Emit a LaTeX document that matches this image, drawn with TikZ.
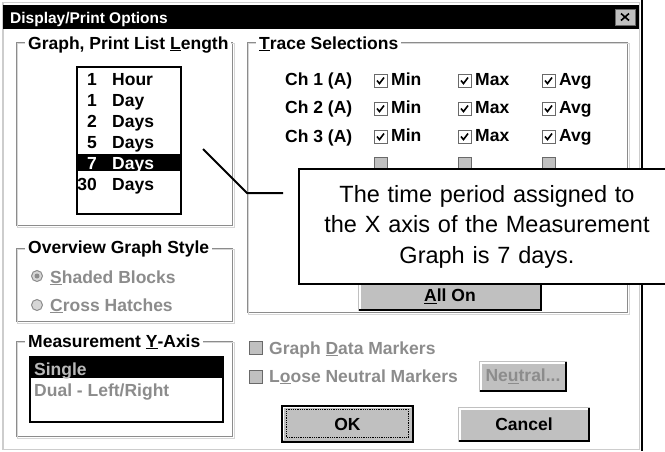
\documentclass[tikz,border=0pt]{standalone}
\usepackage{fontspec}
\setmainfont{Liberation Sans}
\usepackage{tikz}
\usetikzlibrary{positioning}

\definecolor{wingray}{RGB}{192,192,192}
\definecolor{dimgray}{RGB}{140,140,140}
\definecolor{etchdark}{RGB}{140,140,140}
\definecolor{etchlight}{RGB}{214,214,214}
\definecolor{framelight}{RGB}{205,205,205}
\definecolor{boxedge}{RGB}{105,105,105}

\begin{document}
\begin{tikzpicture}[x=1pt,y=-1pt,
  dlg/.style={font=\fontsize{17.5}{20}\selectfont\bfseries, inner sep=0pt},
  dim/.style={dlg, text=dimgray},
  grpbox/.style={draw=etchdark, line width=1pt},
  grpshade/.style={draw=etchlight, line width=1pt},
  grplabel/.style={dlg, fill=white, inner xsep=3pt, inner ysep=1pt, anchor=base west},
  chk/.style={draw=boxedge, fill=white, line width=1pt},
  chkoff/.style={draw=boxedge, fill=wingray, line width=1pt},
  tick/.style={line width=1.6pt},
  radio/.style={draw=dimgray, fill=etchlight, line width=1pt},
  btn/.style={dlg, fill=wingray, minimum height=30pt},
  callout/.style={draw, line width=2.2pt, fill=white, align=center,
    font=\fontsize{23.5}{30.5}\selectfont}
]
\useasboundingbox (0,0) rectangle (665,451);

  % Window frame and title bar
  \draw[framelight, line width=1.5] (3,2.5) rectangle (639.5,449.5);
  \draw[line width=2] (641.5,0) -- (641.5,451);
  \fill (3,5) rectangle (639,29);
  \node[font=\fontsize{15.5}{18}\selectfont\bfseries, text=white, anchor=base west,
    inner sep=0pt] (title) at (10,23) {Display/Print Options};
  \node[fill=wingray, draw=boxedge, line width=0.8, minimum width=20,
    minimum height=16, inner sep=0pt] (close) at (625,17) {};
  \draw[line width=1.6] ([shift={(-4,-3.5)}]close.center) -- ([shift={(4,3.5)}]close.center);
  \draw[line width=1.6] ([shift={(-4,3.5)}]close.center) -- ([shift={(4,-3.5)}]close.center);

  % Etched group frames
  \foreach \l/\t/\r/\b in {16/42/234/227, 247/42/629/314, 16/248/234/323, 16/341/234/438} {
    \draw[grpbox] (\l,\t) rectangle (\r-1.3,\b-1.3);
    \draw[grpshade] (\l+1.3,\t+1.3) rectangle (\r,\b);
  }
  \node[grplabel] (lenlbl) at (25,49) {Graph, Print List \underline{L}ength};
  \node[grplabel] (tracelbl) at (256,49) {\underline{T}race Selections};
  \node[grplabel] (overlbl) at (25,253) {Overview Graph Style};
  \node[grplabel] (yaxlbl) at (25,347) {Measurement \underline{Y}-Axis};

  % Length list
  \node[draw, line width=1.2, minimum width=104, minimum height=147, inner sep=0pt]
    (lenlist) at (129,140.5) {};
  \fill (78,154) rectangle (180,171);
  \foreach \n/\u/\y in {1/Hour/85, 1/Day/106, 2/Days/127, 5/Days/148, 30/Days/190} {
    \node[dlg, anchor=base east] (num\y) at (97,\y) {\n};
    \node[dlg, anchor=base west] (unit\y) at (112,\y) {\u};
  }
  \node[dlg, text=white, anchor=base east] (num169) at (97,169) {7};
  \node[dlg, text=white, anchor=base west] (unit169) at (112,169) {Days};

  % Trace selections
  \foreach \c/\y in {1/85, 2/113, 3/142}
    \node[dlg, anchor=base west] (ch\c) at (285,\y) {Ch \c\ (A)};
  \foreach \x/\w in {374/Min, 458/Max, 542/Avg} {
    \foreach \y in {74,102,130} {
      \draw[chk] (\x,\y) rectangle +(13,13);
      \draw[tick] (\x+3,\y+6.5) -- (\x+5.5,\y+9.5) -- (\x+10,\y+3.5);
      \node[dlg, anchor=base west] (\w\y) at (\x+17,\y+11) {\w};
    }
    \draw[chkoff] (\x,157) rectangle +(13,13);
  }
  \node[btn, minimum width=184] (allon) at (450,296) {\underline{A}ll On};

  % Overview graph style
  \draw[radio] (37,276) circle (5.5);
  \fill[dimgray] (37,276) circle (2.5);
  \draw[radio] (37,305) circle (5.5);
  \node[dim, anchor=base west] (shaded) at (50,283) {\underline{S}haded Blocks};
  \node[dim, anchor=base west] (cross) at (50,311) {\underline{C}ross Hatches};

  % Measurement Y-axis list
  \node[draw, line width=1.2, minimum width=193, minimum height=65, inner sep=0pt]
    (yaxlist) at (126.5,389.5) {};
  \fill (31,358) rectangle (222,378);
  \node[dlg, text=gray!55, anchor=base west] (single) at (34,375) {Single};
  \node[dim, anchor=base west] (dual) at (34,396) {Dual - Left/Right};

  % Markers and buttons
  \draw[chkoff] (249,341) rectangle +(13,13);
  \node[dim, anchor=base west] (datamk) at (269,354) {Graph \underline{D}ata Markers};
  \draw[chkoff] (249,370) rectangle +(13,13);
  \node[dim, anchor=base west] (loosemk) at (269,382) {L\underline{o}ose Neutral Markers};
  \node[btn, text=dimgray, minimum width=88, minimum height=31] (neutral) at (523,376.5)
    {Ne\underline{u}tral...};
  \node[btn, draw=black, line width=1.2, minimum width=131, minimum height=36] (ok)
    at (347.5,424) {OK};
  \draw[densely dotted, line width=0.8] ([shift={(5,4)}]ok.north west)
    rectangle ([shift={(-5,-5)}]ok.south east);
  \node[btn, minimum width=132, minimum height=35] (cancel) at (524,424.5) {Cancel};
  \foreach \b in {allon, neutral, ok, cancel} {
    \draw[white, line width=1.5] ([shift={(2,-2.5)}]\b.south west) |- ([shift={(-2.5,2)}]\b.north east);
    \draw[line width=2] ([shift={(1.5,-1)}]\b.south west) -| ([shift={(-1,1.5)}]\b.north east);
  }

  % Callout
  \coordinate (tip) at (203,149);
  \coordinate (elbow) at (247,193);
  \coordinate (lineend) at (283,193);
  \draw[line width=2] (tip) -- (elbow) -- (lineend);
  \node[callout, minimum width=376, minimum height=115, text width=370] (note)
    at (487,226.5) {The time period assigned to\\the X axis of the Measurement\\Graph is 7 days.};

\end{tikzpicture}
\end{document}
